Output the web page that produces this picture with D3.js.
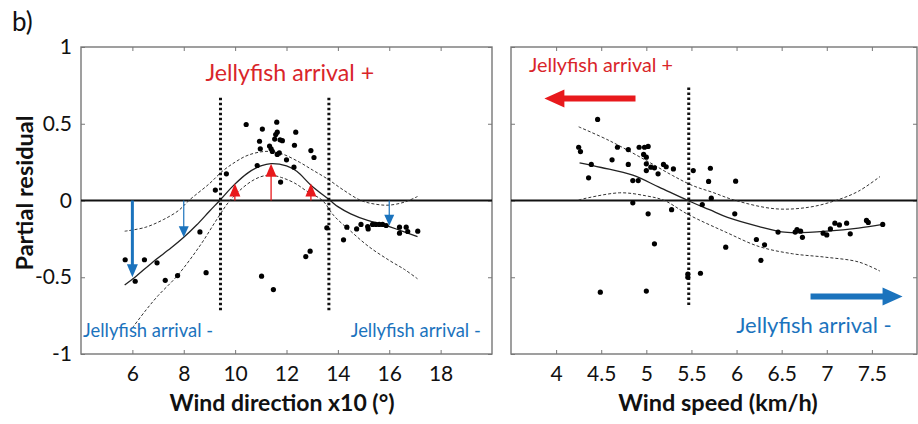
<!DOCTYPE html>
<html>
<head>
<meta charset="utf-8">
<script src="https://cdn.jsdelivr.net/npm/d3@7"></script>
<style>
  body { margin: 0; background: #fff; }
  text { font-family: Lato, "Open Sans", sans-serif; }
</style>
</head>
<body>
<div id="chart"></div>
<script>
// ---- data ----
// left panel: wind direction (x10 deg)
const dirX = [10.43, 11.62, 11.06, 11.64, 11.58, 12.36, 10.95, 11.54, 11.75, 11.84, 12.31, 11.34, 10.98, 11.40, 11.45,
  11.72, 11.64, 12.95, 13.07, 12.0, 10.86, 12.29, 11.77, 9.66, 9.23,
  5.72, 6.47, 6.96, 6.11, 7.28, 7.76, 8.63, 8.87, 11.03, 11.49, 12.75, 12.92, 13.57, 14.22, 14.35, 14.73,
  14.9, 15.16, 15.18, 15.35, 15.48, 15.61, 15.74, 15.88, 16.4, 16.4, 16.66, 16.72, 17.11]
const dirY = [0.495, 0.51, 0.465, 0.445, 0.43, 0.445, 0.386, 0.40, 0.395, 0.39, 0.36, 0.355, 0.337, 0.337, 0.32,
  0.31, 0.30, 0.325, 0.28, 0.265, 0.228, 0.217, 0.12, 0.174, 0.068,
  -0.386, -0.386, -0.406, -0.526, -0.52, -0.489, -0.205, -0.47, -0.493, -0.58, -0.365, -0.33, -0.178, -0.256, -0.174, -0.185,
  -0.156, -0.17, -0.185, -0.156, -0.156, -0.156, -0.156, -0.163, -0.174, -0.213, -0.174, -0.202, -0.2]

const dirFitX = [5.7, 6.1, 6.8, 7.5, 8.0, 8.5, 9.0, 9.4, 9.95, 10.5, 11.0, 11.4, 12.0, 12.4, 12.95, 13.7, 14.0, 14.5, 15.16, 15.9, 16.5, 17.1]
const dirFitY = [-0.55, -0.50, -0.40, -0.31, -0.24, -0.16, -0.07, 0.0, 0.10, 0.18, 0.225, 0.24, 0.225, 0.19, 0.10, 0.0, -0.04, -0.087, -0.13, -0.163, -0.2, -0.235]
const dirUpX = [5.7, 6.5, 7.2, 7.8, 8.2, 9.0, 9.5, 10.0, 10.5, 11.2, 11.8, 12.5, 13.0, 13.6, 14.2, 14.9, 15.5, 16.0, 16.6, 17.1]
const dirUpY = [-0.2, -0.175, -0.125, -0.065, 0.0, 0.11, 0.19, 0.25, 0.295, 0.32, 0.305, 0.25, 0.2, 0.14, 0.07, 0.0, -0.025, -0.03, -0.01, 0.026]
const dirLoX = [6.0, 6.5, 7.0, 7.75, 8.65, 9.3, 9.8, 10.5, 11.0, 11.4, 11.8, 12.3, 12.8, 13.4, 13.85, 14.5, 15.2, 16.0, 16.6, 17.1]
const dirLoY = [-0.83, -0.72, -0.62, -0.49, -0.29, -0.12, 0.0, 0.11, 0.155, 0.165, 0.15, 0.115, 0.06, 0.0, -0.1, -0.2, -0.30, -0.39, -0.45, -0.51]

const dirCuts = [9.43, 13.65]
const dirDownX = [6, 8, 16]
const dirDownTo = [-0.5, -0.24, -0.165]
const dirUpArrX = [9.99, 11.4, 12.95]
const dirUpArrTo = [0.11, 0.24, 0.11]

// right panel: wind speed (km/h)
const spdX = [4.46, 4.25, 4.27, 4.39, 4.36, 4.62, 4.68, 4.80, 4.80, 4.85, 4.91, 4.92, 4.98, 5.02, 4.97, 5.0, 5.0, 5.0,
  5.05, 5.09, 5.13, 5.19, 5.22, 5.30, 5.52, 5.71, 5.69, 5.99, 5.72, 4.85, 5.02, 5.28, 5.62, 5.98, 5.09, 5.46, 5.46,
  5.60, 5.88, 6.22, 6.31, 6.27, 4.49, 5.0, 6.46, 6.65, 6.67, 6.71, 6.73, 6.96, 7.0, 7.04, 7.09, 7.14, 7.22, 7.26,
  7.44, 7.46, 7.62]
const spdY = [0.528, 0.347, 0.319, 0.235, 0.148, 0.265, 0.347, 0.332, 0.235, 0.13, 0.13, 0.347, 0.347, 0.352, 0.30, 0.282, 0.239, 0.195,
  0.217, 0.213, 0.174, 0.235, 0.22, 0.206, 0.195, 0.21, 0.124, 0.126, 0.015, -0.015, -0.087, -0.06, -0.026, -0.087, -0.282, -0.48, -0.5,
  -0.474, -0.304, -0.254, -0.289, -0.39, -0.597, -0.59, -0.206, -0.206, -0.19, -0.2, -0.24, -0.213, -0.224, -0.185, -0.148, -0.159, -0.148, -0.217,
  -0.13, -0.143, -0.156]

const spdFitX = [4.26, 4.5, 4.85, 5.14, 5.46, 5.7, 5.9, 6.25, 6.5, 6.65, 7.0, 7.35, 7.62]
const spdFitY = [0.245, 0.215, 0.165, 0.087, 0.0, -0.06, -0.11, -0.17, -0.205, -0.21, -0.2, -0.18, -0.156]
const spdUpX = [4.25, 4.59, 5.0, 5.29, 5.51, 5.73, 5.99, 6.43, 6.8, 7.1, 7.35, 7.59]
const spdUpY = [0.48, 0.39, 0.26, 0.163, 0.098, 0.054, 0.0, -0.054, -0.044, 0.0, 0.06, 0.156]
const spdLoX = [4.25, 4.7, 5.0, 5.2, 5.46, 5.88, 6.25, 6.62, 6.98, 7.35, 7.59]
const spdLoY = [0.004, 0.05, 0.03, 0.0, -0.09, -0.206, -0.30, -0.347, -0.369, -0.40, -0.46]
const spdCut = 5.47

const yTicks = [-1, -0.5, 0, 0.5, 1]
const dirTicks = [6, 8, 10, 12, 14, 16, 18]
const spdTicks = [4, 4.5, 5, 5.5, 6, 6.5, 7, 7.5]

const RED = "#e8191c", RED_TXT = "#d9252a", BLUE = "#1b73bd"

const svg = d3.select("#chart").append("svg")
  .attr("width", 918).attr("height", 424)
  .style("font-family", "Lato, 'Open Sans', sans-serif")

const y = d3.scaleLinear().domain([-1, 1]).range([354, 47])
const xDir = d3.scaleLinear().domain([4, 20]).range([81, 492])
const xSpd = d3.scaleLinear().domain([3.5, 8]).range([511, 917])

const fmt = d => String(d)

function frame(x, xTicks, showY) {
  const g = svg.append("g")
  const [x0, x1] = x.range()
  g.append("g").attr("transform", `translate(0,${y(-1)})`)
    .call(d3.axisBottom(x).tickValues(xTicks).tickSize(-4).tickPadding(12).tickFormat(fmt))
  g.append("g").attr("transform", `translate(0,${y(1)})`)
    .call(d3.axisTop(x).tickValues(xTicks).tickSize(-4).tickFormat(""))
  g.append("g").attr("transform", `translate(${x0},0)`)
    .call(d3.axisLeft(y).tickValues(yTicks).tickSize(-4).tickPadding(9).tickFormat(showY ? fmt : ""))
  g.append("g").attr("transform", `translate(${x1},0)`)
    .call(d3.axisRight(y).tickValues(yTicks).tickSize(-4).tickFormat(""))
  g.selectAll(".domain").remove()
  g.selectAll(".tick line").attr("stroke", "#777")
  g.selectAll(".tick text").attr("font-size", 21).attr("fill", "#111")
    .style("font-family", "Lato, 'Open Sans', sans-serif")
  g.append("rect").attr("x", x0).attr("y", y(1))
    .attr("width", x1 - x0).attr("height", y(-1) - y(1))
    .attr("fill", "none").attr("stroke", "#777").attr("stroke-width", 1.4)
  // zero line
  g.append("line").attr("x1", x0).attr("x2", x1).attr("y1", y(0)).attr("y2", y(0))
    .attr("stroke", "#111").attr("stroke-width", 2)
  return g
}

function curve(g, x, xs, ys, dashed) {
  const line = d3.line().x(d => x(d[0])).y(d => y(d[1])).curve(d3.curveCatmullRom)
  g.append("path").datum(d3.zip(xs, ys))
    .attr("d", line).attr("fill", "none")
    .attr("stroke", dashed ? "#333" : "#222")
    .attr("stroke-width", dashed ? 1 : 1.3)
    .attr("stroke-dasharray", dashed ? "3,2" : null)
}

function vcut(g, x, xv, top, bottom) {
  g.append("line").attr("x1", x(xv)).attr("x2", x(xv))
    .attr("y1", y(top)).attr("y2", y(bottom))
    .attr("stroke", "#111").attr("stroke-width", 3).attr("stroke-dasharray", "2.5,2.5")
}

function dots(g, x, xs, ys) {
  g.selectAll(null).data(d3.zip(xs, ys)).join("circle")
    .attr("cx", d => x(d[0])).attr("cy", d => y(d[1])).attr("r", 2.6).attr("fill", "#000")
}

// vertical arrow from 0 to a value
function varrow(g, x, xv, to, color, w, headW, headL) {
  const px = x(xv), p0 = y(0), p1 = y(to)
  const dir = p1 > p0 ? 1 : -1
  g.append("line").attr("x1", px).attr("x2", px).attr("y1", p0).attr("y2", p1 - dir * headL * 0.6)
    .attr("stroke", color).attr("stroke-width", w)
  g.append("path")
    .attr("d", `M${px},${p1} L${px - headW / 2},${p1 - dir * headL} L${px + headW / 2},${p1 - dir * headL} Z`)
    .attr("fill", color)
}

// horizontal block arrow
function harrow(g, x, from, to, yv, color) {
  const a = x(from), b = x(to), py = y(yv)
  const dir = b > a ? 1 : -1
  const headL = 20, headH = 18, w = 6
  g.append("path")
    .attr("d", `M${a},${py - w / 2} L${b - dir * headL},${py - w / 2} L${b - dir * headL},${py - headH / 2}
      L${b},${py} L${b - dir * headL},${py + headH / 2} L${b - dir * headL},${py + w / 2} L${a},${py + w / 2} Z`)
    .attr("fill", color)
}

// ---- left panel ----
const gl = frame(xDir, dirTicks, true)
curve(gl, xDir, dirUpX, dirUpY, true)
curve(gl, xDir, dirLoX, dirLoY, true)
curve(gl, xDir, dirFitX, dirFitY, false)
dirCuts.forEach(c => vcut(gl, xDir, c, 0.67, -0.72))
dots(gl, xDir, dirX, dirY)
dirDownX.forEach((xv, i) => varrow(gl, xDir, xv, dirDownTo[i], BLUE, i === 0 ? 3 : 1.2, i === 0 ? 11 : 10, i === 0 ? 13 : 11))
dirUpArrX.forEach((xv, i) => varrow(gl, xDir, xv, dirUpArrTo[i], RED, 1.3, 11, 13))

gl.append("text").attr("x", xDir(12.13)).attr("y", y(0.78))
  .attr("text-anchor", "middle").attr("font-size", 23.2).attr("fill", RED_TXT)
  .text("Jellyfish arrival +")
gl.append("text").attr("x", xDir(4.08)).attr("y", y(-0.89))
  .attr("font-size", 18.4).attr("fill", BLUE).text("Jellyfish arrival -")
gl.append("text").attr("x", xDir(14.5)).attr("y", y(-0.89))
  .attr("font-size", 18.4).attr("fill", BLUE).text("Jellyfish arrival -")

// ---- right panel ----
const gr = frame(xSpd, spdTicks, false)
curve(gr, xSpd, spdUpX, spdUpY, true)
curve(gr, xSpd, spdLoX, spdLoY, true)
curve(gr, xSpd, spdFitX, spdFitY, false)
vcut(gr, xSpd, spdCut, 0.736, -0.69)
dots(gr, xSpd, spdX, spdY)
harrow(gr, xSpd, 4.88, 3.87, 0.664, RED)
harrow(gr, xSpd, 6.82, 7.84, -0.625, BLUE)

gr.append("text").attr("x", xSpd(3.7)).attr("y", y(0.834))
  .attr("font-size", 19.8).attr("fill", RED_TXT).text("Jellyfish arrival +")
gr.append("text").attr("x", xSpd(7.72)).attr("y", y(-0.86))
  .attr("text-anchor", "end").attr("font-size", 22).attr("fill", BLUE).text("Jellyfish arrival -")

// ---- titles ----
svg.append("text").attr("x", 12).attr("y", 31).attr("font-size", 26).attr("fill", "#111").text("b)")
svg.append("text").attr("transform", "translate(33,193) rotate(-90)")
  .attr("text-anchor", "middle").attr("font-size", 23.5).attr("font-weight", "bold").attr("fill", "#111")
  .text("Partial residual")
svg.append("text").attr("x", 282).attr("y", 411).attr("text-anchor", "middle")
  .attr("font-size", 23).attr("font-weight", "bold").attr("fill", "#111").text("Wind direction x10 (°)")
svg.append("text").attr("x", 718).attr("y", 411).attr("text-anchor", "middle")
  .attr("font-size", 23.5).attr("font-weight", "bold").attr("fill", "#111").text("Wind speed (km/h)")
</script>
</body>
</html>
